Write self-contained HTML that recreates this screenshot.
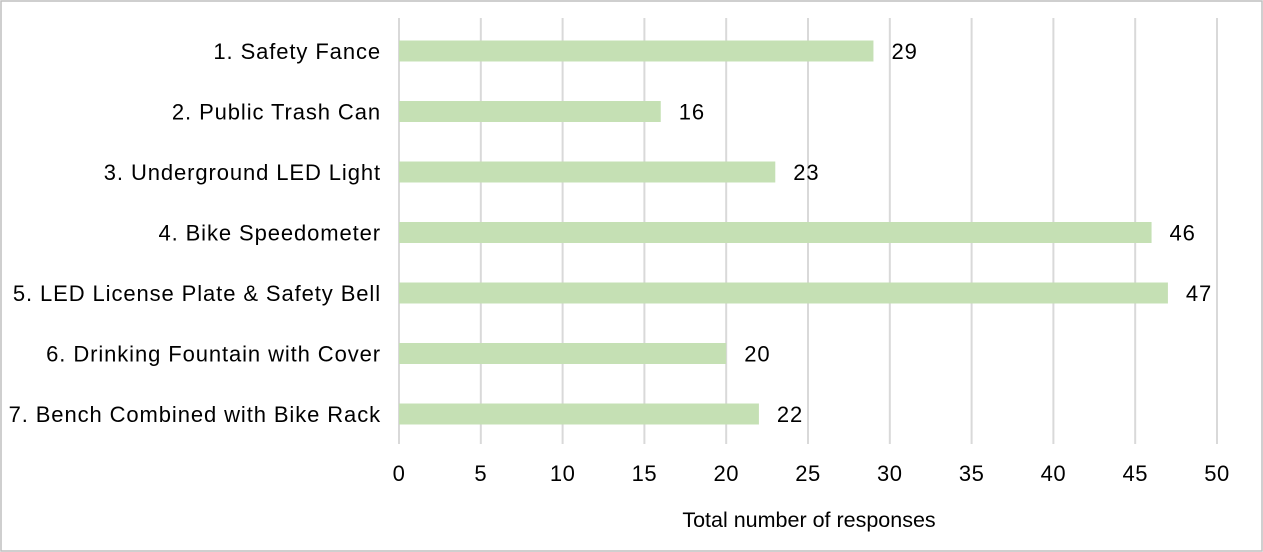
<!DOCTYPE html>
<html><head><meta charset="utf-8"><style>
body{margin:0;background:#fff;}
svg{display:block;font-family:"Liberation Sans",Arial,sans-serif;}
</style></head><body>
<svg id="chart" width="1263" height="552">
<rect x="1" y="1" width="1261" height="550" fill="#fff" stroke="#bfbfbf" stroke-width="1.5"/>
<g id="grid"></g><g id="bars"></g><g id="labels"></g>
<text x="809" y="527" font-size="21.5" text-anchor="middle" fill="#000">Total number of responses</text>
</svg>
<script>
const categories=["1. Safety Fance","2. Public Trash Can","3. Underground LED Light","4. Bike Speedometer","5. LED License Plate & Safety Bell","6. Drinking Fountain with Cover","7. Bench Combined with Bike Rack"];
const values=[29,16,23,46,47,20,22];
const ticks=[0,5,10,15,20,25,30,35,40,45,50];
const ns="http://www.w3.org/2000/svg";
const x0=399,x1=1217,xmax=50;
const xs=v=>x0+(x1-x0)*v/xmax;
const yc=i=>51+60.5*i;
function mk(t,a,p,txt){const e=document.createElementNS(ns,t);for(const k in a)e.setAttribute(k,a[k]);if(txt!==undefined)e.textContent=txt;document.getElementById(p).appendChild(e);return e;}
ticks.forEach(t=>{
 const l=mk('line',{x1:xs(t),x2:xs(t),y1:18,y2:444,stroke:'#d9d9d9','stroke-width':2},'grid');
 
 
 const tx=mk('text',{x:xs(t),y:481,'font-size':22,'letter-spacing':0.5,'text-anchor':'middle'},'labels',t);
 
 
});
categories.forEach((c,i)=>{
 const r=mk('rect',{x:x0,y:yc(i)-10.5,width:xs(values[i])-x0,height:21,fill:'#c5e0b4'},'bars');
 
 
 const cl=mk('text',{x:381,y:yc(i)+8,'font-size':22,'letter-spacing':0.9,'text-anchor':'end'},'labels',c);
 
 
 const vl=mk('text',{x:xs(values[i])+18,y:yc(i)+8,'font-size':22,'letter-spacing':0.9},'labels',values[i]);
 
 
});
</script>
</body></html>
